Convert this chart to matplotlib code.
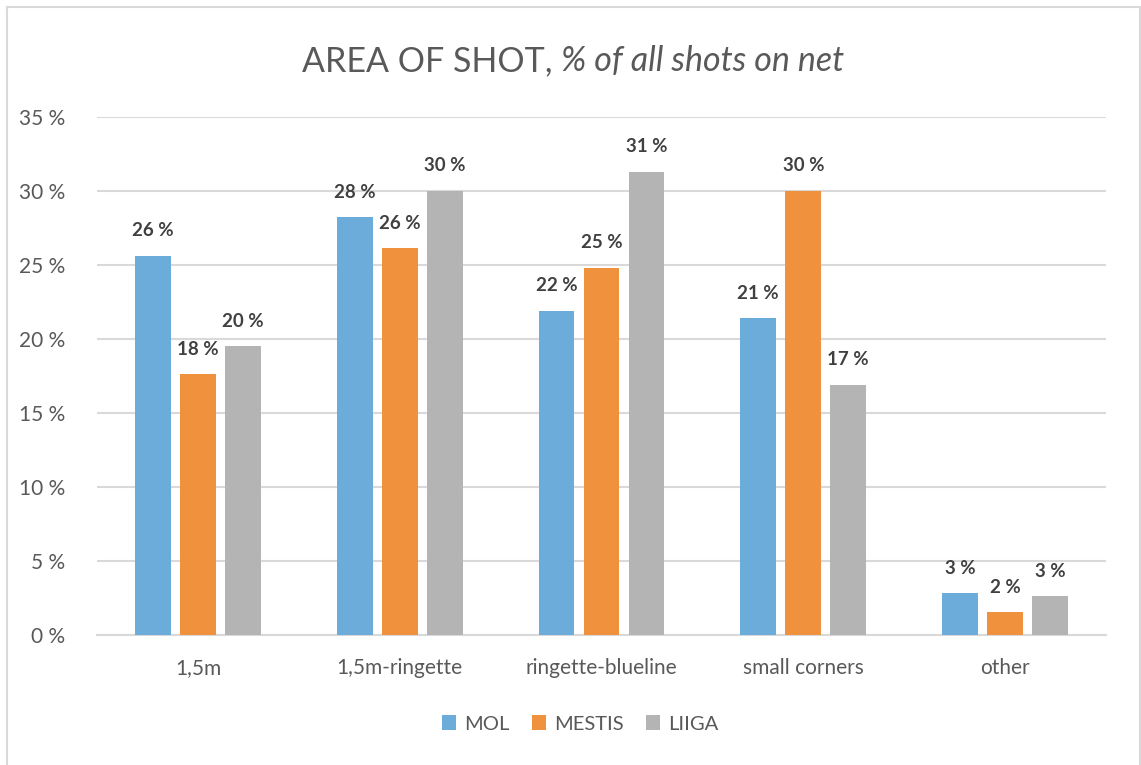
import matplotlib.pyplot as plt
import numpy as np
from matplotlib.patches import Patch
from matplotlib.lines import Line2D

categories = ["1,5m", "1,5m-ringette", "ringette-blueline", "small corners", "other"]
series_names = ["MOL", "MESTIS", "LIIGA"]
mol = [25.6, 28.2, 21.9, 21.4, 2.8]
mestis = [17.6, 26.1, 24.8, 30.0, 1.5]
liiga = [19.5, 30.0, 31.3, 16.9, 2.6]
colors = ["#6CACDA", "#EF913D", "#B4B4B4"]

plt.rcParams["font.family"] = ["Lato", "DejaVu Sans"]
text_grey = "#595959"
grid_grey = "#D9D9D9"

W, H = 1141, 765
fig = plt.figure(figsize=(W / 100, H / 100), dpi=100)
ax = fig.add_axes([97 / W, 1 - 634.6 / H, (1106 - 97) / W, (634.6 - 116.8) / H])

x = np.arange(len(categories))
width = 0.178
pitch = 0.223
for i, (vals, col) in enumerate(zip([mol, mestis, liiga], colors)):
    bars = ax.bar(x + (i - 1) * pitch, vals, width, color=col, zorder=3)
    for b, v in zip(bars, vals):
        ax.annotate("%d %%" % round(v), (b.get_x() + b.get_width() / 2, v),
                    xytext=(0, 18), textcoords="offset points",
                    ha="center", va="center", fontsize=13.5, fontweight="bold",
                    color="#404040")

ax.set_xlim(-0.5, len(categories) - 0.5)
ax.set_ylim(0, 35)
ax.set_yticks(np.arange(0, 36, 5))
ax.set_yticklabels(["%d %%" % t for t in np.arange(0, 36, 5)])
ax.set_xticks(x)
ax.set_xticklabels(categories)
ax.yaxis.grid(True, color=grid_grey, lw=1.5, zorder=0)
ax.tick_params(axis="both", length=0, labelsize=15, colors=text_grey)
ax.tick_params(axis="y", pad=23)
ax.tick_params(axis="x", pad=17)
for s in ["top", "right", "left"]:
    ax.spines[s].set_visible(False)
ax.spines["bottom"].set_color(grid_grey)
ax.spines["bottom"].set_linewidth(1.5)

# title, normal + italic part
t1 = fig.text(0, 1 - 61 / H, "AREA OF SHOT, ", fontsize=24.5, color=text_grey,
              ha="left", va="center")
t2 = fig.text(0, 1 - 61 / H, "% of all shots on net", fontsize=24.5, color=text_grey,
              ha="left", va="center", style="italic")
fig.canvas.draw()
r = fig.canvas.get_renderer()
w1 = t1.get_window_extent(r).width
w2 = t2.get_window_extent(r).width
x0 = 573 - (w1 + w2) / 2
t1.set_x(x0 / W)
t2.set_x((x0 + w1) / W)

handles = [Patch(facecolor=c, edgecolor="none") for c in colors]
fig.legend(handles, series_names, loc="center", bbox_to_anchor=(580 / W, 1 - 724 / H),
           ncol=3, frameon=False, fontsize=14.5, labelcolor=text_grey,
           handlelength=0.7, handleheight=0.7, handletextpad=0.4, columnspacing=1.1)

# chart border
for xs, ys in [([7, 7], [7, H]), ([7, 1140], [7, 7]), ([1140, 1140], [7, H])]:
    fig.add_artist(Line2D([v / W for v in xs], [1 - v / H for v in ys],
                          color=grid_grey, lw=1.5))

fig.savefig("out.png", dpi=100)
